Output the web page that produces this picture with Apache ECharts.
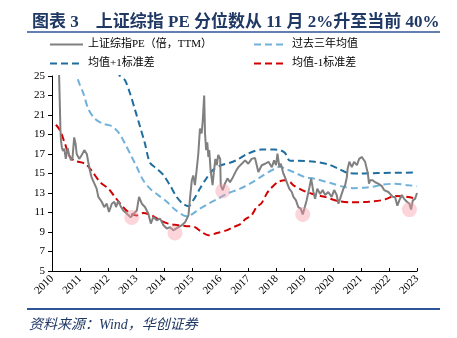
<!DOCTYPE html>
<html>
<head>
<meta charset="utf-8">
<script src="https://cdn.jsdelivr.net/npm/echarts@6/dist/echarts.min.js"></script>
<style>
  html, body { margin: 0; padding: 0; background: #fff; }
  #chart { width: 457px; height: 338px; }
</style>
</head>
<body>
<div id="chart"></div>
<script>
// Shanghai Composite PE (TTM) and rolling three-year bands, time as decimal years
const titleText = '图表 3　上证综指 PE 分位数从 11 月 2%升至当前 40%';
const sourceText = '资料来源：Wind，华创证券';
const seriesNames = ['上证综指PE（倍，TTM）', '过去三年均值', '均值+1标准差', '均值-1标准差'];
const yearTicks = [2010, 2023];
const valueTicks = [5, 25, 2];

const pePoints = [
  [2010.20, 27.0], [2010.25, 25.5], [2010.30, 19.5], [2010.32, 18.4], [2010.35, 17.7], [2010.39, 17.3],
  [2010.44, 17.55], [2010.49, 16.5], [2010.56, 17.6], [2010.61, 16.9], [2010.68, 16.35], [2010.73, 16.6],
  [2010.79, 18.7], [2010.84, 18.05], [2010.88, 17.0], [2010.97, 16.5], [2011.06, 16.9], [2011.15, 17.4],
  [2011.24, 17.0], [2011.29, 16.2], [2011.35, 15.3], [2011.41, 14.6], [2011.51, 13.96], [2011.59, 13.45],
  [2011.65, 12.6], [2011.77, 12.1], [2011.86, 11.56], [2011.95, 11.9], [2012.03, 11.05], [2012.13, 11.9],
  [2012.22, 12.1], [2012.28, 11.56], [2012.36, 12.2], [2012.46, 11.56], [2012.54, 11.2], [2012.60, 11.2],
  [2012.66, 10.9], [2012.72, 10.7], [2012.80, 10.5], [2012.84, 10.7], [2012.92, 10.9], [2013.02, 11.2],
  [2013.10, 12.6], [2013.20, 11.9], [2013.31, 11.56], [2013.43, 10.9], [2013.52, 9.86], [2013.61, 10.54],
  [2013.73, 10.2], [2013.85, 10.37], [2013.97, 9.69], [2014.09, 9.35], [2014.20, 9.5], [2014.32, 9.17],
  [2014.38, 9.0], [2014.50, 9.5], [2014.62, 9.69], [2014.74, 10.0], [2014.86, 10.7], [2014.92, 12.6],
  [2014.98, 14.3], [2015.03, 14.8], [2015.09, 13.8], [2015.15, 15.3], [2015.21, 17.0], [2015.27, 19.6],
  [2015.33, 19.1], [2015.37, 20.45], [2015.42, 23.0], [2015.45, 19.1], [2015.49, 17.4], [2015.53, 18.2],
  [2015.57, 16.7], [2015.60, 17.4], [2015.65, 15.3], [2015.72, 13.8], [2015.77, 15.3], [2015.82, 16.5],
  [2015.87, 15.85], [2015.92, 16.9], [2015.99, 16.5], [2016.01, 13.8], [2016.08, 13.3], [2016.16, 13.96],
  [2016.25, 14.5], [2016.34, 14.1], [2016.44, 14.6], [2016.56, 15.3], [2016.64, 15.65], [2016.76, 16.0],
  [2016.88, 16.35], [2016.99, 16.0], [2017.11, 16.5], [2017.23, 16.6], [2017.35, 15.15], [2017.47, 15.85],
  [2017.59, 16.0], [2017.71, 16.2], [2017.83, 15.65], [2017.91, 16.35], [2017.98, 15.85], [2018.03, 17.04],
  [2018.10, 15.65], [2018.15, 16.0], [2018.24, 15.0], [2018.30, 14.6], [2018.38, 13.96], [2018.45, 13.45],
  [2018.54, 13.1], [2018.60, 12.6], [2018.69, 12.25], [2018.77, 11.56], [2018.86, 11.4], [2018.93, 10.8],
  [2018.99, 11.4], [2019.07, 12.25], [2019.17, 13.6], [2019.23, 14.5], [2019.31, 13.1], [2019.37, 12.4],
  [2019.45, 13.45], [2019.55, 12.9], [2019.64, 13.3], [2019.73, 12.8], [2019.84, 13.1], [2019.96, 12.6],
  [2020.05, 13.3], [2020.14, 12.8], [2020.20, 11.9], [2020.26, 12.4], [2020.32, 12.6], [2020.38, 13.45],
  [2020.44, 13.8], [2020.50, 14.6], [2020.53, 15.5], [2020.59, 16.2], [2020.68, 15.65], [2020.76, 16.2],
  [2020.86, 15.85], [2020.94, 16.5], [2021.03, 16.7], [2021.09, 16.87], [2021.15, 16.2], [2021.21, 15.5],
  [2021.25, 15.0], [2021.29, 13.96], [2021.33, 14.3], [2021.42, 14.3], [2021.51, 14.1], [2021.62, 13.96],
  [2021.75, 13.7], [2021.83, 13.3], [2021.90, 13.45], [2021.98, 13.1], [2022.04, 13.2], [2022.14, 12.6],
  [2022.22, 12.6], [2022.30, 11.7], [2022.37, 12.25], [2022.46, 12.8], [2022.54, 12.4], [2022.64, 12.1],
  [2022.73, 11.9], [2022.79, 11.3], [2022.85, 12.25], [2022.93, 12.4], [2023.00, 13.0]
];

const meanPoints = [
  [2010.85, 25.8], [2010.94, 24.5], [2011.12, 23.2], [2011.29, 21.65], [2011.53, 20.6], [2011.83, 20.1],
  [2012.13, 19.85], [2012.36, 19.25], [2012.60, 18.07], [2012.84, 16.7], [2013.02, 15.67], [2013.25, 14.3],
  [2013.49, 13.45], [2013.79, 12.76], [2014.09, 12.1], [2014.38, 11.3], [2014.68, 10.7], [2014.85, 10.6],
  [2014.98, 10.8], [2015.27, 11.4], [2015.57, 11.9], [2015.87, 12.35], [2016.22, 12.9], [2016.70, 13.45],
  [2017.05, 13.96], [2017.41, 14.6], [2017.71, 15.15], [2017.99, 15.55], [2018.12, 15.72], [2018.30, 15.5],
  [2018.60, 15.15], [2019.00, 14.64], [2019.31, 14.48], [2019.48, 14.37], [2019.95, 14.0], [2020.37, 13.65],
  [2020.74, 13.5], [2021.15, 13.55], [2021.45, 13.65], [2021.75, 13.85], [2022.21, 13.95], [2022.68, 13.8],
  [2023.00, 13.7]
];

const upperPoints = [
  [2012.35, 25.6], [2012.42, 25.0], [2012.60, 24.56], [2012.78, 23.2], [2012.96, 21.5], [2013.14, 19.77],
  [2013.31, 18.07], [2013.49, 16.1], [2013.73, 15.5], [2013.95, 14.9], [2014.20, 13.8], [2014.44, 12.6],
  [2014.66, 11.9], [2014.86, 11.65], [2015.03, 12.25], [2015.27, 13.45], [2015.45, 14.3], [2015.75, 15.4],
  [2016.07, 15.9], [2016.34, 16.1], [2016.59, 16.4], [2016.98, 17.04], [2017.46, 17.45], [2017.93, 17.45],
  [2018.12, 17.4], [2018.30, 17.1], [2018.48, 16.3], [2018.76, 16.3], [2019.36, 16.2], [2019.83, 15.95],
  [2020.19, 15.5], [2020.55, 15.05], [2021.02, 15.0], [2021.61, 15.05], [2023.00, 15.1]
];

const lowerPoints = [
  [2010.14, 20.0], [2010.29, 19.4], [2010.46, 18.07], [2010.64, 16.7], [2010.82, 16.3], [2011.18, 16.0],
  [2011.41, 15.3], [2011.71, 14.13], [2012.01, 13.45], [2012.24, 12.6], [2012.48, 11.74], [2012.72, 11.05],
  [2013.02, 10.7], [2013.25, 10.95], [2013.55, 10.7], [2013.85, 10.2], [2014.14, 9.86], [2014.44, 9.72],
  [2014.80, 9.6], [2015.09, 9.5], [2015.33, 9.0], [2015.57, 8.66], [2015.88, 8.9], [2016.22, 9.17],
  [2016.46, 9.5], [2016.74, 9.86], [2016.88, 10.3], [2017.10, 10.7], [2017.29, 11.56], [2017.46, 11.95],
  [2017.65, 12.94], [2017.77, 13.4], [2018.05, 14.13], [2018.29, 14.3], [2018.48, 14.13], [2018.59, 13.8],
  [2018.91, 13.3], [2019.24, 12.94], [2019.43, 12.76], [2019.72, 12.6], [2020.14, 12.2], [2020.66, 12.05],
  [2021.26, 12.1], [2021.73, 12.25], [2021.92, 12.4], [2022.21, 12.7], [2022.68, 12.6], [2023.00, 12.4]
];

// Lows that sit on or below the lower band
const lowMarks = [
  [2012.84, 10.5], [2014.38, 8.9], [2016.08, 13.2], [2018.93, 10.8], [2022.73, 11.3]
];

const serifFont = '"Liberation Serif", "Times New Roman", "Noto Sans CJK SC", serif';
const colors = {
  pe: '#808080',
  mean: '#72B2DA',
  upper: '#1F6E9F',
  lower: '#D20000',
  navy: '#1F3864',
  rule: '#2F5597',
  mark: 'rgba(245, 150, 160, 0.5)'
};

const chart = echarts.init(document.getElementById('chart'), null, { renderer: 'canvas' });

function dashed(name, data, color) {
  return {
    name: name,
    type: 'line',
    data: data,
    symbol: 'none',
    smooth: 0.3,
    lineStyle: { color: color, width: 2, type: [7, 4] },
    itemStyle: { color: color },
    z: 2
  };
}

// Legend keys show only the line stroke, no marker
const legendBase = {
  orient: 'vertical',
  top: 39,
  padding: 0,
  itemWidth: 33,
  itemHeight: 12,
  itemGap: 8,
  itemStyle: { opacity: 0 },
  textStyle: { fontFamily: serifFont, fontSize: 11, color: '#000' }
};

chart.setOption({
  animation: false,
  title: {
    text: titleText,
    left: 27,
    top: 9,
    textStyle: { fontFamily: serifFont, fontSize: 17, fontWeight: 'bold', color: colors.navy }
  },
  legend: [
    Object.assign({ data: [seriesNames[0], seriesNames[2]], left: 49 }, legendBase),
    Object.assign({ data: [seriesNames[1], seriesNames[3]], left: 253 }, legendBase)
  ],
  grid: { left: 52, right: 40, top: 76, bottom: 67 },
  xAxis: {
    type: 'value',
    min: yearTicks[0],
    max: yearTicks[1],
    interval: 1,
    axisLine: { lineStyle: { color: '#000', width: 1 } },
    axisTick: { inside: true, length: 3, lineStyle: { color: '#000' } },
    splitLine: { show: false },
    axisLabel: {
      rotate: 45,
      margin: 6,
      fontFamily: serifFont,
      fontSize: 11,
      color: '#000',
      formatter: v => String(v)
    }
  },
  yAxis: {
    type: 'value',
    min: valueTicks[0],
    max: valueTicks[1],
    interval: valueTicks[2],
    axisLine: { show: true, lineStyle: { color: '#000', width: 1 } },
    axisTick: { show: true, inside: false, length: 4, lineStyle: { color: '#000' } },
    splitLine: { show: false },
    axisLabel: { margin: 7, fontFamily: serifFont, fontSize: 11, color: '#000' }
  },
  series: [
    {
      name: seriesNames[0],
      type: 'line',
      data: pePoints,
      symbol: 'none',
      lineStyle: { color: colors.pe, width: 2 },
      itemStyle: { color: colors.pe },
      z: 3
    },
    dashed(seriesNames[1], meanPoints, colors.mean),
    dashed(seriesNames[2], upperPoints, colors.upper),
    dashed(seriesNames[3], lowerPoints, colors.lower),
    {
      name: 'lows',
      type: 'scatter',
      data: lowMarks,
      symbolSize: 15,
      itemStyle: { color: colors.mark },
      z: 5
    }
  ],
  graphic: [
    {
      type: 'line',
      shape: { x1: 27, y1: 32, x2: 440, y2: 32 },
      style: { stroke: colors.rule, lineWidth: 1.5 }
    },
    {
      type: 'line',
      shape: { x1: 27, y1: 309, x2: 440, y2: 309 },
      style: { stroke: colors.rule, lineWidth: 2 }
    },
    {
      type: 'text',
      left: 29,
      top: 318,
      style: {
        text: sourceText,
        font: 'italic 14px ' + serifFont,
        fill: colors.navy
      }
    }
  ]
});
</script>
</body>
</html>
